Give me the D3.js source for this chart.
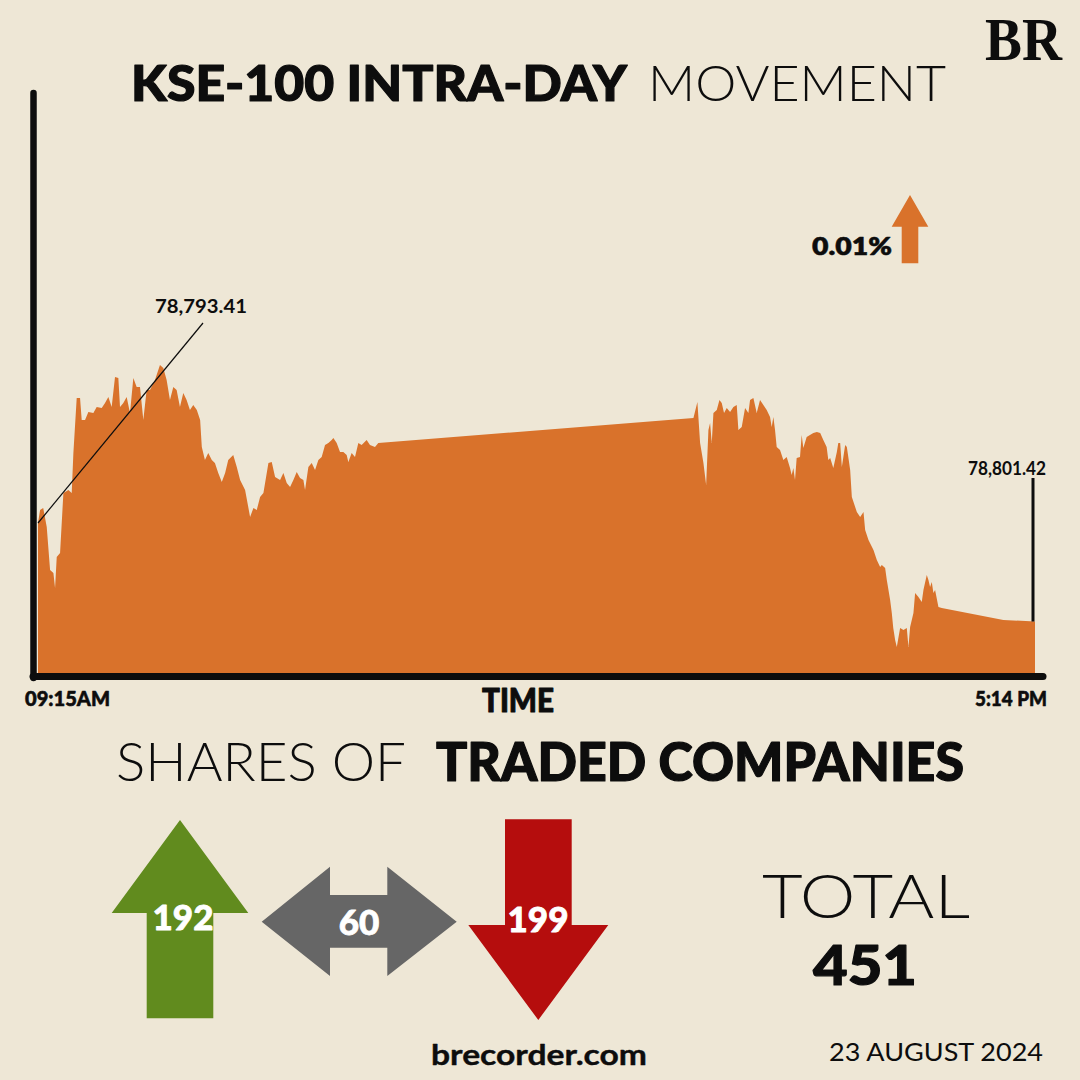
<!DOCTYPE html>
<html>
<head>
<meta charset="utf-8">
<script src="https://cdn.jsdelivr.net/npm/d3@7"></script>
<style>
  html, body { margin: 0; padding: 0; background: #EEE7D6; }
  svg { display: block; }
</style>
</head>
<body>
<svg id="chart" width="1080" height="1080"></svg>
<script>
// ---------- DATA ----------
// minutes elapsed since 09:15 open (session ends 17:14 = 479 min)
const minutesFromOpen = [
  0,1.0,2.5,4.2,5.8,7.4,8.2,9.0,10.6,12.2,
  14.6,16.2,17.0,18.6,20.2,21.0,22.6,24.2,26.6,28.2,
  30.6,32.2,33.8,35.4,37.0,38.6,39.4,41.0,42.6,44.2,
  45.8,47.4,49.0,50.6,52.2,53.8,56.2,58.6,60.2,61.8,
  63.4,65.0,66.6,68.2,69.8,71.4,73.0,74.6,76.3,77.9,
  78.7,80.2,81.8,83.5,85.0,86.6,88.3,89.9,91.4,93.8,
  95.5,97.1,99.5,101.9,103.5,105.1,106.7,108.3,110.7,112.3,
  113.9,116.3,
  117.9,119.5,121.1,122.7,124.3,125.9,127.5,128.3,129.9,131.5,
  133.1,134.7,136.3,137.9,139.5,141.1,141.9,143.5,145.1,146.7,
  148.3,149.1,150.7,152.3,153.9,155.5,157.9,159.5,161.9,163.5,
  314.9,316.8,318.1,319.7,321.0,322.1,322.9,323.7,324.5,326.1,
  327.4,328.5,329.6,330.9,332.5,334.1,335.7,336.5,338.1,339.7,
  341.3,342.1,343.7,345.3,346.9,348.5,350.1,351.7,352.5,353.3,
  354.1,354.9,356.5,358.1,359.7,361.3,362.1,362.9,363.7,364.5,
  366.1,366.9,367.7,369.3,370.9,372.5,374.2,375.8,377.3,378.9,
  379.7,380.6,382.1,383.8,384.5,385.4,386.2,387.8,388.6,389.3,
  390.2,391.0,393.4,395.0,396.6,397.4,399.0,401.4,403.0,404.6,
  405.4,407.0,407.8,409.4,410.2,410.9,411.8,412.6,414.2,415.8,
  417.4,418.2,419.0,420.6,421.4,423.0,424.6,425.4,427.0,427.8,
  428.6,429.4,430.2,431.0,432.6,434.2,463.8,479
];
const indexValues = [
  79097,79136,79142,79085,78956,78947,78902,78995,79007,79187,
  79196,79187,79307,79472,79472,79406,79406,79430,79427,79445,
  79442,79457,79475,79445,79535,79532,79445,79457,79475,79427,
  79532,79505,79505,79406,79496,79496,79526,79571,79562,79526,
  79466,79505,79496,79445,79487,79466,79436,79451,79436,79406,
  79325,79286,79307,79286,79277,79247,79220,79247,79286,79301,
  79265,79226,79196,79115,79142,79136,79175,79187,79277,79280,
  79235,79226,
  79247,79217,79205,79226,79250,79232,79226,79196,79265,79277,
  79256,79286,79295,79331,79337,79346,79352,79337,79310,79310,
  79301,79280,79307,79295,79337,79331,79346,79331,79325,79337,
  79412,79460,79337,79277,79211,79376,79397,79337,79427,79436,
  79466,79457,79427,79442,79430,79445,79451,79376,79385,79442,
  79427,79466,79472,79427,79466,79451,79436,79415,79385,79415,
  79376,79325,79316,79286,79295,79262,79241,79262,79226,79292,
  79295,79361,79322,79355,79361,79367,79370,79367,79346,79325,
  79286,79292,79262,79310,79337,79337,79265,79331,79325,79295,
  79256,79175,79130,79115,79130,79076,79046,79016,78986,78965,
  78971,78962,78926,78866,78827,78782,78746,78725,78782,78776,
  78782,78725,78785,78827,78887,78875,78860,78896,78941,78926,
  78905,78920,78887,78896,78845,78842,78806,78801.42
];
const timeTickLabels = ["09:15AM", "5:14 PM"];
const startLabel = "78,793.41";
const endLabel = "78,801.42";
const changeLabel = "0.01%";
const companyCategories = ["Up", "Unchanged", "Down"];
const companyCounts = [192, 60, 199];
const totalCompanies = 451;
const dateLabel = "23 AUGUST 2024";

// ---------- SETUP ----------
const svg = d3.select("#chart");
const C = { bg: "#EEE7D6", orange: "#D9722B", green: "#618B1E", gray: "#666666", red: "#B50D0D", ink: "#0d0d0d" };
svg.append("rect").attr("width", 1080).attr("height", 1080).attr("fill", C.bg);

function label(x, y, txt, o) {
  const fill = o.fill || C.ink;
  const t = svg.append("text")
    .attr("x", x).attr("y", y)
    .attr("font-family", o.family || "Lato, 'Open Sans', sans-serif")
    .attr("font-size", o.size)
    .attr("font-weight", o.weight || 400)
    .attr("fill", fill)
    .attr("text-anchor", o.anchor || "start")
    .text(txt);
  if (o.width) t.attr("textLength", o.width).attr("lengthAdjust", "spacingAndGlyphs");
  if (o.heavy) t.attr("stroke", fill).attr("stroke-width", o.heavy).attr("stroke-linejoin", "round");
  return t;
}

const data = minutesFromOpen.map((m, i) => ({ m, v: indexValues[i] }));
const x = d3.scaleLinear().domain([0, 479]).range([38, 1035]);
const y = d3.scaleLinear().domain([78650, 79577]).range([672, 363]);

// area
const area = d3.area().x(d => x(d.m)).y0(676).y1(d => y(d.v)).curve(d3.curveLinear);
svg.append("path").datum(data).attr("d", area).attr("fill", C.orange);

// axes lines
svg.append("line").attr("x1", 33.5).attr("x2", 33.5).attr("y1", 93).attr("y2", 678)
  .attr("stroke", C.ink).attr("stroke-width", 6.5).attr("stroke-linecap", "round");
svg.append("line").attr("x1", 33).attr("x2", 1043).attr("y1", 676.5).attr("y2", 676.5)
  .attr("stroke", C.ink).attr("stroke-width", 7).attr("stroke-linecap", "round");

// x-axis tick labels
label(25, 706, timeTickLabels[0], { size: 21, weight: 900, width: 85, heavy: 0.6 });
label(975, 706, timeTickLabels[1], { size: 21, weight: 900, width: 72, heavy: 0.6 });
label(482, 712, "TIME", { size: 33, weight: 900, width: 72, heavy: 1 });

// annotations
const first = data[0], last = data[data.length - 1];
svg.append("line").attr("x1", x(first.m)).attr("y1", y(first.v)).attr("x2", 203).attr("y2", 323)
  .attr("stroke", C.ink).attr("stroke-width", 1.2);
label(155, 313, startLabel, { size: 19, weight: 700, width: 92 });
svg.append("line").attr("x1", x(last.m) - 2).attr("x2", x(last.m) - 2).attr("y1", 478).attr("y2", y(last.v))
  .attr("stroke", C.ink).attr("stroke-width", 3);
label(968, 475, endLabel, { size: 19, weight: 700, width: 78 });

// change indicator
label(812, 255, changeLabel, { size: 25, weight: 800, width: 80, heavy: 0.5 });
svg.append("path")
  .attr("d", "M910,195 L928.3,226.7 L918.3,226.7 L918.3,263.3 L901.7,263.3 L901.7,226.7 L891.7,226.7 Z")
  .attr("fill", C.orange);

// title
label(131, 101, "KSE-100 INTRA-DAY", { size: 49, weight: 900, width: 496, heavy: 1.2 });
label(648, 101, "MOVEMENT", { size: 49, weight: 300, width: 298 });

// BR logo
label(985, 60, "BR", { family: "'Liberation Serif', 'DejaVu Serif', serif", size: 62, weight: 700, width: 77 });

// shares heading
label(116, 781, "SHARES OF", { size: 53, weight: 300, width: 290 });
label(436, 781, "TRADED COMPANIES", { size: 53, weight: 900, width: 528, heavy: 1.2 });

// count arrows
const arrowShapes = [
  { d: "M180,820 L248.3,913 L213.3,913 L213.3,1018.3 L146.7,1018.3 L146.7,913 L111.7,913 Z", fill: C.green, cx: 183, ty: 930 },
  { d: "M261.7,921.7 L330,866.7 L330,895 L387.3,895 L387.3,866.7 L456.7,921.7 L387.3,976 L387.3,947.7 L330,947.7 L330,976 Z", fill: C.gray, cx: 359, ty: 935 },
  { d: "M505,819.3 L571.7,819.3 L571.7,925 L608.3,925 L538.3,1020 L468.3,925 L505,925 Z", fill: C.red, cx: 538, ty: 932 }
];
companyCategories.forEach((c, i) => {
  const a = arrowShapes[i];
  svg.append("path").attr("d", a.d).attr("fill", a.fill);
  label(a.cx, a.ty, String(companyCounts[i]), { size: 35, weight: 900, fill: "#ffffff", anchor: "middle", heavy: 0.8 });
});

// total
label(762, 918, "TOTAL", { size: 62, weight: 300, width: 208 });
label(813, 985, String(totalCompanies), { size: 56, weight: 900, width: 104, heavy: 1.2 });

// footer
label(431, 1065, "brecorder.com", { size: 29, weight: 700, width: 216, heavy: 0.4 });
label(829, 1061, dateLabel, { size: 25, weight: 400, width: 214 });
</script>
</body>
</html>
